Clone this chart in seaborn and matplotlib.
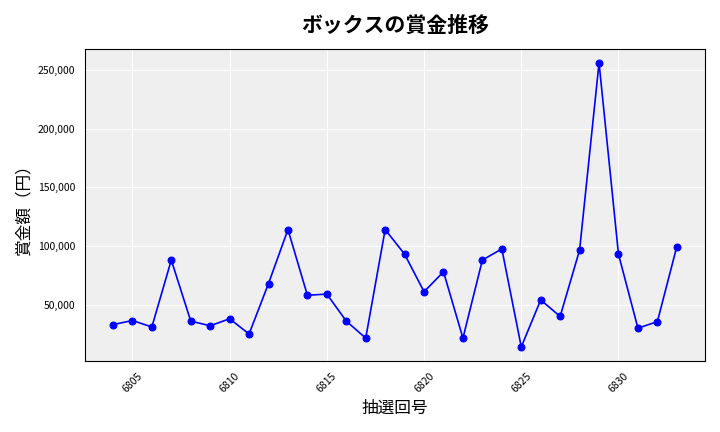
import matplotlib
matplotlib.use("Agg")
import matplotlib.pyplot as plt
import seaborn as sns
import pandas as pd
from matplotlib.ticker import FuncFormatter

draws = list(range(6804, 6834))
prizes = [33000, 36500, 31000, 88000, 36000, 32000, 38000, 25000, 68000, 114000,
          58000, 59000, 36000, 21500, 114000, 93000, 61000, 78000, 21500, 88000,
          97500, 14000, 54000, 40000, 96500, 256000, 93000, 30000, 35500, 99500]

sns.set_style("darkgrid", {"axes.facecolor": "#efefef", "grid.color": "white",
                           "axes.edgecolor": "black", "text.color": "black",
                           "axes.labelcolor": "black", "xtick.color": "black",
                           "ytick.color": "black"})
plt.rcParams['font.family'] = ['Noto Sans CJK JP', 'DejaVu Sans']

df = pd.DataFrame({"draw": draws, "prize": prizes})
fig, ax = plt.subplots(figsize=(7.2, 4.32), dpi=100)
sns.lineplot(data=df, x="draw", y="prize", ax=ax, color="blue", marker="o",
             markersize=5, markeredgecolor="blue", linewidth=1.2)
ax.set_title("ボックスの賞金推移", fontsize=15, fontweight="bold", pad=12)
ax.set_xlabel("抽選回号", fontsize=12)
ax.set_ylabel("賞金額（円）", fontsize=12)
ax.yaxis.set_major_formatter(FuncFormatter(lambda v, p: f"{int(v):,}"))
ax.set_xticks([6805, 6810, 6815, 6820, 6825, 6830])
plt.setp(ax.get_xticklabels(), rotation=45, fontsize=7.5)
plt.setp(ax.get_yticklabels(), fontsize=7.5)
for s in ax.spines.values():
    s.set_visible(True); s.set_color("black"); s.set_linewidth(0.8)
fig.tight_layout()
fig.savefig("out.png", dpi=100)
